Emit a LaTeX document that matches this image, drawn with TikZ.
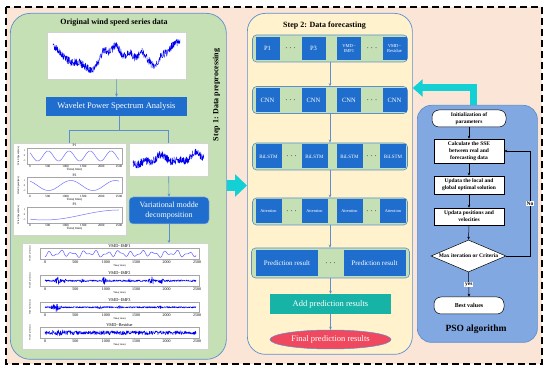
\documentclass[tikz,border=0pt]{standalone}
\usepackage{fontspec}
\setmainfont{Liberation Serif}
\usetikzlibrary{arrows.meta,shapes.geometric,calc}
\definecolor{peach}{HTML}{FBE5D6}
\definecolor{lgreen}{HTML}{C5E0B4}
\definecolor{lyellow}{HTML}{FFF2CC}
\definecolor{psoblue}{HTML}{82A8E2}
\definecolor{boxblue}{HTML}{1F6DCC}
\definecolor{edgeblue}{HTML}{5B8FD0}
\definecolor{cyanarrow}{HTML}{12D0D3}
\definecolor{tealbox}{HTML}{17B3A6}
\definecolor{redbox}{HTML}{F0485E}
\definecolor{sigblue}{HTML}{0000F0}
\definecolor{curveblue}{HTML}{7373FF}
\begin{document}
\begin{tikzpicture}[x=1pt,y=-1pt,
  panel/.style={draw=edgeblue, line width=0.7pt, anchor=north west, inner sep=0pt},
  bar/.style={draw=edgeblue, fill=lgreen, rounded corners=4pt, line width=0.6pt, minimum height=27pt, inner sep=0pt},
  sbox/.style={fill=boxblue, text=white, inner sep=0pt, align=center},
  dots/.style={font=\fontsize{9}{9}\selectfont, inner sep=0pt},
  flow/.style={draw=edgeblue, line width=0.6pt, -{Stealth[length=3pt,width=2.6pt]}},
  bline/.style={draw=edgeblue, line width=0.7pt},
  chart/.style={draw=gray!35, fill=white, line width=0.4pt, anchor=north west, inner sep=0pt},
  psonode/.style={draw=black, fill=white, line width=0.5pt, align=center, inner sep=0pt, font=\fontsize{5.5}{7}\selectfont\bfseries, minimum width=70pt},
  psoarrow/.style={draw=black, line width=0.5pt, -{Stealth[length=3pt,width=2.6pt]}},
  tinytxt/.style={font=\fontsize{3.6}{4}\selectfont, inner sep=0pt},
  axframe/.style={draw=gray!70, line width=0.3pt},
  noisy/.style={sigblue, line width=0.4pt, line join=round},
]
\fill[white] (0,0) rectangle (550,371);
\useasboundingbox (0,0) rectangle (550,371);
\draw[fill=peach, line width=1.6pt, dash pattern=on 7pt off 4pt] (6,7) rectangle (542,364);

% panels
\node[panel, fill=lgreen, rounded corners=20pt, minimum width=216pt, minimum height=346pt] (s1) at (10,13) {};
\node[panel, fill=lyellow, rounded corners=18pt, minimum width=165pt, minimum height=341pt] (s2) at (247,13) {};
\node[panel, fill=psoblue, rounded corners=14pt, minimum width=120pt, minimum height=237pt] (pso) at (417,105) {};

% ---------------- Step 1 ----------------
\node[font=\bfseries\fontsize{8}{9}\selectfont, inner sep=0pt] (t1) at (114,23) {Original wind speed series data};
\node[rotate=90, font=\bfseries\fontsize{8}{9}\selectfont, inner sep=0pt] (t1v) at (216.5,95) {Step 1: Data preprocessing};

\node[chart, minimum width=139pt, minimum height=47pt] (c1) at (47,32) {};
\begin{scope}
\clip (c1.north west) rectangle (c1.south east);
\pgfmathsetseed{11}
\draw[noisy] plot[domain=53:180, samples=520]
  (\x, {45*max(0,1-abs(\x-53)/6.35) + 52*max(0,1-abs(\x-59.35)/6.35) + 59*max(0,1-abs(\x-65.7)/6.35)
   + 63*max(0,1-abs(\x-72.05)/6.35) + 62*max(0,1-abs(\x-78.4)/6.35) + 66*max(0,1-abs(\x-84.75)/6.35)
   + 71*max(0,1-abs(\x-91.1)/6.35) + 64*max(0,1-abs(\x-97.45)/6.35) + 50*max(0,1-abs(\x-103.8)/6.35)
   + 52*max(0,1-abs(\x-110.15)/6.35) + 44*max(0,1-abs(\x-116.5)/6.35) + 57*max(0,1-abs(\x-122.85)/6.35)
   + 52*max(0,1-abs(\x-129.2)/6.35) + 58*max(0,1-abs(\x-135.55)/6.35) + 52*max(0,1-abs(\x-141.9)/6.35)
   + 60*max(0,1-abs(\x-148.25)/6.35) + 68*max(0,1-abs(\x-154.6)/6.35) + 56*max(0,1-abs(\x-160.95)/6.35)
   + 52*max(0,1-abs(\x-167.3)/6.35) + 44*max(0,1-abs(\x-173.65)/6.35) + 41*max(0,1-abs(\x-180)/6.35)
   + 4*rand});
\end{scope}

\node[sbox, minimum width=141pt, minimum height=19pt, font=\fontsize{8.5}{10}\selectfont] (wps) at (116.5,106.5) {Wavelet Power Spectrum Analysis};

\node[chart, minimum width=113pt, minimum height=92pt] (cP) at (13,143) {};
\node[chart, minimum width=79pt, minimum height=33pt] (cR) at (129,143) {};
\begin{scope}
\clip (cR.north west) rectangle (cR.south east);
\pgfmathsetseed{7}
\draw[noisy] plot[domain=133:204, samples=300]
  (\x, {161 + 3*sin((\x-133)/71*700) + 2*sin((\x-133)/71*1500+30) - 4*(\x-133)/71 + 4*rand});
\end{scope}

% P subplots
\foreach \k/\tp/\ttl in {0/148/P1, 1/177.5/P2, 2/207/P3}{
  \draw[axframe] (27,\tp) rectangle (122,\tp+16);
  \node[tinytxt] (pt\k) at (74.5,\tp-2.3) {\ttl};
  \foreach \i/\l in {0/0,1/500,2/1000,3/1500,4/2000,5/2500}
    \node[tinytxt, font=\fontsize{3.2}{3.5}\selectfont] (px\k\i) at ({30+\i*17.8},\tp+18.6) {\l};
  \node[tinytxt, font=\fontsize{3.2}{3.5}\selectfont] (pl\k) at (74.5,\tp+21.8) {Time(1min)};
  \node[tinytxt, font=\fontsize{2.6}{3}\selectfont] (py1\k) at (24.5,\tp+3) {1};
  \node[tinytxt, font=\fontsize{2.6}{3}\selectfont] (py2\k) at (24.5,\tp+8) {0};
  \node[tinytxt, font=\fontsize{2.6}{3}\selectfont] (py3\k) at (24.5,\tp+13) {-1};
  \node[tinytxt, rotate=90, font=\fontsize{2.6}{3}\selectfont] (pyl\k) at (18.5,\tp+8) {Wind Speed(m/s)};
}
\draw[curveblue, line width=0.5pt] plot[domain=30:119, samples=160, smooth] (\x, {156 - 5*cos((\x-30)/21*360 + 50)});
\draw[curveblue, line width=0.5pt] plot[domain=30:119, samples=120, smooth] (\x, {185.5 - 5*cos((\x-30)/44.5*360 + 30)});
\draw[curveblue, line width=0.5pt] plot[domain=30:119, samples=80, smooth] (\x, {215 + 5*cos(((\x-30)*28.09-400)/2100*180)});

\node[sbox, rounded corners=4pt, draw=edgeblue!60, line width=0.5pt, minimum width=80pt, minimum height=27pt, font=\fontsize{8}{10.5}\selectfont] (vmd) at (169,210.5) {Variational modde\\decomposition};

\node[chart, minimum width=186pt, minimum height=106pt] (vmdc) at (22,243) {};
\foreach \k/\tp/\ttl in {0/248.5/IMF1, 1/275.5/IMF2, 2/302/IMF3, 3/327.5/Residue}{
  \draw[axframe] (40,\tp) rectangle (199,\tp+10.5);
  \node[tinytxt, font=\fontsize{4.3}{4.5}\selectfont] (vt\k) at (119.5,\tp-2.3) {VMD−\ttl};
  \foreach \i/\l in {0/0,1/500,2/1000,3/1500,4/2000,5/2500}
    \node[tinytxt, font=\fontsize{4}{4.2}\selectfont] (vx\k\i) at ({45+\i*30.4},\tp+13.6) {\l};
  \node[tinytxt, font=\fontsize{2.6}{3}\selectfont] (vl\k) at (119.5,\tp+17) {Time(1min)};
  \node[tinytxt, rotate=90, font=\fontsize{2.2}{2.5}\selectfont] (vy\k) at (30,\tp+5.25) {Wind Speed(m/s)};
}
\pgfmathsetseed{5}
\draw[curveblue!80!blue, line width=0.5pt] plot[domain=45:196, samples=300, smooth]
  (\x, {253.75 - 2*sin(31*\x) - 1.2*sin(53*\x+20) - 0.8*sin(13*\x)});
\draw[noisy] plot[domain=45:196, samples=560]
  (\x, {280.75 + (0.9 + 3.5*max(0,1-abs(\x-58)/4) + 2.5*max(0,1-abs(\x-65)/2.5) + 3.5*max(0,1-abs(\x-104)/3) + 4*max(0,1-abs(\x-152)/4) + 3*max(0,1-abs(\x-161)/3) + 1.5*max(0,1-abs(\x-130)/2) + 1.2*max(0,1-abs(\x-82)/2))*rand});
\draw[noisy] plot[domain=45:196, samples=560]
  (\x, {307.25 + (0.8 + 4*max(0,1-abs(\x-56)/6) + 1.5*max(0,1-abs(\x-100)/3) + 1.2*max(0,1-abs(\x-120)/3) + 1.2*max(0,1-abs(\x-160)/3))*rand});
\draw[noisy] plot[domain=45:196, samples=560]
  (\x, {332.75 + (2 + 1.2*max(0,1-abs(\x-60)/15))*rand});

% step 1 connectors
\draw[flow] (c1.south) -- (wps.north);
\draw[bline] ([xshift=2.5pt]wps.south) -- ++(0,14) coordinate (sp);
\draw[bline] (cP.north) -- (cP.north |- sp) -- (cR.north |- sp) -- (cR.north);
\draw[flow] (cR.south) -- (vmd.north);
\draw[flow] (vmd.south) -- (vmd.south |- vmdc.north);

% ---------------- Step 2 ----------------
\node[font=\bfseries\fontsize{8}{9}\selectfont, inner sep=0pt] (t2) at (324.5,26) {Step 2: Data forecasting};

\node[bar, minimum width=155pt] (r1) at (330,48.5) {};
\node[bar, minimum width=155pt] (r2) at (330,100) {};
\node[bar, minimum width=155pt] (r3) at (330,156.5) {};
\node[bar, minimum width=155pt] (r4) at (330,211.5) {};
\node[bar, minimum width=158pt, minimum height=30pt] (r5) at (330.5,263) {};

\node[sbox, minimum width=24pt, minimum height=23pt, font=\fontsize{6.5}{7}\selectfont] (b11) at (267.5,48.5) {P1};
\node[dots] (d11) at (290.5,48.5) {$\cdots$};
\node[sbox, minimum width=24pt, minimum height=23pt, font=\fontsize{6.5}{7}\selectfont] (b12) at (313.5,48.5) {P3};
\node[sbox, minimum width=24pt, minimum height=23pt, font=\fontsize{4.6}{5.6}\selectfont] (b13) at (349,48.5) {VMD−\\IMF1};
\node[dots] (d12) at (372,48.5) {$\cdots$};
\node[sbox, minimum width=24pt, minimum height=23pt, font=\fontsize{4.6}{5.6}\selectfont] (b14) at (394.5,48.5) {VMD−\\Residue};

\node[sbox, minimum width=24pt, minimum height=24pt, font=\fontsize{6.5}{7}\selectfont] (b21) at (267.5,100) {CNN};
\node[dots] (d21) at (290.5,100) {$\cdots$};
\node[sbox, minimum width=24pt, minimum height=24pt, font=\fontsize{6.5}{7}\selectfont] (b22) at (313.5,100) {CNN};
\node[sbox, minimum width=24pt, minimum height=24pt, font=\fontsize{6.5}{7}\selectfont] (b23) at (349,100) {CNN};
\node[dots] (d22) at (372,100) {$\cdots$};
\node[sbox, minimum width=24pt, minimum height=24pt, font=\fontsize{6.5}{7}\selectfont] (b24) at (394.5,100) {CNN};

\node[sbox, minimum width=26pt, minimum height=24pt, font=\fontsize{5}{6}\selectfont] (b31) at (268.5,156.5) {BiLSTM};
\node[dots] (d31) at (291.5,156.5) {$\cdots$};
\node[sbox, minimum width=26pt, minimum height=24pt, font=\fontsize{5}{6}\selectfont] (b32) at (314.5,156.5) {BiLSTM};
\node[sbox, minimum width=26pt, minimum height=24pt, font=\fontsize{5}{6}\selectfont] (b33) at (349.5,156.5) {BiLSTM};
\node[dots] (d32) at (371.5,156.5) {$\cdots$};
\node[sbox, minimum width=26pt, minimum height=24pt, font=\fontsize{5}{6}\selectfont] (b34) at (393,156.5) {BiLSTM};

\node[sbox, minimum width=26pt, minimum height=24pt, font=\fontsize{4.3}{5}\selectfont] (b41) at (268.5,211.5) {Attention};
\node[dots] (d41) at (291.5,211.5) {$\cdots$};
\node[sbox, minimum width=26pt, minimum height=24pt, font=\fontsize{4.3}{5}\selectfont] (b42) at (314.5,211.5) {Attention};
\node[sbox, minimum width=26pt, minimum height=24pt, font=\fontsize{4.3}{5}\selectfont] (b43) at (349.5,211.5) {Attention};
\node[dots] (d42) at (371.5,211.5) {$\cdots$};
\node[sbox, minimum width=26pt, minimum height=24pt, font=\fontsize{4.3}{5}\selectfont] (b44) at (393,211.5) {Attention};

\node[sbox, minimum width=62pt, minimum height=26pt, font=\fontsize{7}{8}\selectfont] (b51) at (287,263) {Prediction result};
\node[dots] (d51) at (330.5,263) {$\cdots$};
\node[sbox, minimum width=62pt, minimum height=26pt, font=\fontsize{7}{8}\selectfont] (b52) at (374.5,263) {Prediction result};

\node[fill=tealbox, text=white, minimum width=121pt, minimum height=20pt, inner sep=0pt, font=\fontsize{8.5}{10}\selectfont] (add) at (330.5,304) {Add prediction results};
\node[ellipse, fill=redbox, draw=edgeblue, line width=0.5pt, minimum width=121pt, minimum height=19pt, inner sep=0pt] (fin) at (330.5,339.5) {};
\node[text=white, inner sep=0pt, font=\fontsize{8.5}{10}\selectfont] (fintxt) at (fin) {Final prediction results};

\draw[flow] (r1.south) -- (r2.north);
\draw[flow] (r2.south) -- (r3.north);
\draw[flow] (r3.south) -- (r4.north);
\draw[flow] (r4.south) -- (r4.south |- r5.north);
\draw[flow] (r5.south) -- (add.north);
\draw[flow] (add.south) -- (fin.north);

% big cyan arrows
\coordinate (ya) at (0,185.5);
\draw[cyanarrow, line width=11pt, -{Triangle[length=12pt,width=22pt]}] (s1.east |- ya) -- (s2.west |- ya);
\coordinate (yb) at (0,88);
\draw[cyanarrow, line width=7pt, line join=miter, -{Triangle[length=10pt,width=17pt]}] ([xshift=-3.5pt]pso.north) |- (s2.east |- yb);

% ---------------- PSO ----------------
\node[psonode, rounded corners=7pt, minimum width=74pt, minimum height=17pt] (init) at (469,118.5) {Initialization of\\parameters};
\node[psonode, minimum height=24pt] (calc) at (469,151) {Calculate the SSE\\between real and\\forecasting data};
\node[psonode, minimum height=18pt] (upd1) at (469,185) {Updata the local and\\global optimal solution};
\node[psonode, minimum height=17pt] (upd2) at (469,216.5) {Updata positions and\\velocities};
\node[diamond, draw=black, fill=white, line width=0.5pt, minimum width=75pt, minimum height=32pt, inner sep=0pt] (dia) at (468.5,256) {};
\node[font=\fontsize{5.5}{6}\selectfont\bfseries, inner sep=0pt] (diat) at (dia) {Max iteration or Criteria};
\node[psonode, rounded corners=7pt, minimum height=17pt, font=\fontsize{6}{7}\selectfont\bfseries] (best) at (469,305.5) {Best values};
\node[font=\bfseries\fontsize{9.5}{10}\selectfont, inner sep=0pt] (psol) at (476,329) {PSO algorithm};

\draw[psoarrow] (init.south) -- (calc.north);
\draw[psoarrow] (calc.south) -- (upd1.north);
\draw[psoarrow] (upd1.south) -- (upd2.north);
\draw[psoarrow] (upd2.south) -- (dia.north);
\draw[psoarrow] (dia.south) -- node[fill=white, inner sep=0.6pt, font=\fontsize{5.5}{6}\selectfont\bfseries] (yes) {yes} (best.north);
\coordinate (loopx) at (530,0);
\draw[psoarrow] (dia.east) -- (dia.east -| loopx) -- node[fill=white, inner sep=0.6pt, font=\fontsize{5.5}{6}\selectfont\bfseries] (no) {No} (loopx |- calc.east) -- (calc.east);
\end{tikzpicture}
\end{document}
